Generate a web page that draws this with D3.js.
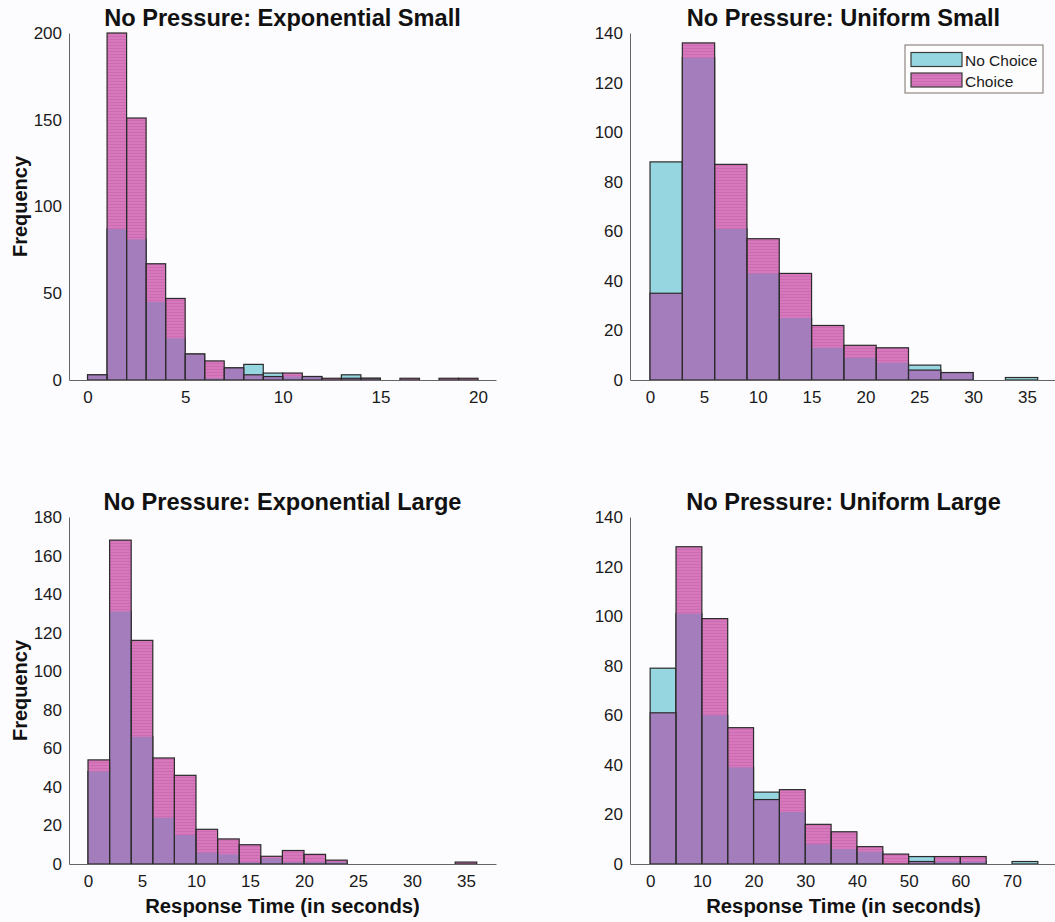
<!DOCTYPE html>
<html>
<head>
<meta charset="utf-8">
<script src="https://cdn.jsdelivr.net/npm/d3@7"></script>
<style>
  body { margin: 0; background: #fcfcfe; }
  svg { display: block; font-family: "Liberation Sans", Arial, Helvetica, sans-serif; }
</style>
</head>
<body>
<div id="chart"></div>
<script>
//----------------------------------
// Data (counts per bin)
//----------------------------------
const expSmallBinWidth = 1;
const expSmallNoChoice = [3, 87, 81, 45, 24, 15, 1, 7, 9, 4, 2, 2, 0, 3, 1, 0, 0, 0, 0, 0];
const expSmallChoice   = [3, 200, 151, 67, 47, 15, 11, 7, 3, 2, 4, 2, 1, 1, 1, 0, 1, 0, 1, 1];

const uniSmallBinWidth = 3;
const uniSmallNoChoice = [88, 130, 61, 43, 25, 13, 9, 7, 6, 3, 0, 1];
const uniSmallChoice   = [35, 136, 87, 57, 43, 22, 14, 13, 4, 3, 0, 0];

const expLargeBinWidth = 2;
const expLargeNoChoice = [48, 131, 66, 24, 15, 6, 5, 1, 3, 1, 1, 1, 0, 0, 0, 0, 0, 0];
const expLargeChoice   = [54, 168, 116, 55, 46, 18, 13, 10, 4, 7, 5, 2, 0, 0, 0, 0, 0, 1];

const uniLargeBinWidth = 5;
const uniLargeNoChoice = [79, 101, 60, 39, 29, 21, 8, 6, 5, 0, 3, 1, 1, 0, 1];
const uniLargeChoice   = [61, 128, 99, 55, 26, 30, 16, 13, 7, 4, 1, 3, 3, 0, 0];

const titles = ["No Pressure: Exponential Small", "No Pressure: Uniform Small",
                "No Pressure: Exponential Large", "No Pressure: Uniform Large"];
const xTicks = [[0, 5, 10, 15, 20], d3.range(0, 36, 5), d3.range(0, 36, 5), d3.range(0, 71, 10)];
const yTicks = [d3.range(0, 201, 50), d3.range(0, 141, 20), d3.range(0, 181, 20), d3.range(0, 141, 20)];
const legendLabels = ["No Choice", "Choice"];

//----------------------------------
// Styling
//----------------------------------
const W = 1055, H = 922;
const cyan = "#95d6e1", pink = "#d778bc", purple = "#a47dbc", edge = "#2b2b2b";

const svg = d3.select("#chart").append("svg")
    .attr("width", W)
    .attr("height", H);

svg.append("rect").attr("width", W).attr("height", H).attr("fill", "#fcfcfe");

// pink faces have faint horizontal banding
const pat = svg.append("defs").append("pattern")
    .attr("id", "pinkStripes")
    .attr("patternUnits", "userSpaceOnUse")
    .attr("width", 6).attr("height", 3);
pat.append("rect").attr("width", 6).attr("height", 3).attr("fill", pink);
pat.append("rect").attr("width", 6).attr("height", 1).attr("fill", "#cd6bb2");

// panel placement
const panels = [
  {left: 69,  right: 496,  top: 33,  bottom: 380, xdom: [-0.95, 20.92], ymax: 200,
   bw: expSmallBinWidth, nc: expSmallNoChoice, c: expSmallChoice},
  {left: 630, right: 1057, top: 33,  bottom: 380, xdom: [-1.86, 37.79], ymax: 140,
   bw: uniSmallBinWidth, nc: uniSmallNoChoice, c: uniSmallChoice},
  {left: 69,  right: 496,  top: 517, bottom: 864, xdom: [-1.76, 37.78], ymax: 180,
   bw: expLargeBinWidth, nc: expLargeNoChoice, c: expLargeChoice},
  {left: 630, right: 1057, top: 517, bottom: 864, xdom: [-3.9, 78.7], ymax: 140,
   bw: uniLargeBinWidth, nc: uniLargeNoChoice, c: uniLargeChoice}
];

panels.forEach((p, i) => {
  const x = d3.scaleLinear().domain(p.xdom).range([p.left, p.right]);
  const y = d3.scaleLinear().domain([0, p.ymax]).range([p.bottom, p.top]);
  const g = svg.append("g");

  const bins = p.nc.map((v, k) => ({x0: k * p.bw, x1: (k + 1) * p.bw, nc: v, c: p.c[k]}));

  // No Choice bars
  g.selectAll(".nc").data(bins).join("rect")
      .attr("x", d => x(d.x0)).attr("width", d => x(d.x1) - x(d.x0))
      .attr("y", d => y(d.nc)).attr("height", d => y(0) - y(d.nc))
      .attr("fill", cyan).attr("stroke", edge).attr("stroke-width", 1.2);

  // Choice bars
  g.selectAll(".c").data(bins).join("rect")
      .attr("x", d => x(d.x0)).attr("width", d => x(d.x1) - x(d.x0))
      .attr("y", d => y(d.c)).attr("height", d => y(0) - y(d.c))
      .attr("fill", "url(#pinkStripes)");

  // overlap of the two
  g.selectAll(".both").data(bins).join("rect")
      .attr("x", d => x(d.x0)).attr("width", d => x(d.x1) - x(d.x0))
      .attr("y", d => y(Math.min(d.nc, d.c))).attr("height", d => y(0) - y(Math.min(d.nc, d.c)))
      .attr("fill", purple);

  // Choice outlines on top
  g.selectAll(".cEdge").data(bins).join("rect")
      .attr("x", d => x(d.x0)).attr("width", d => x(d.x1) - x(d.x0))
      .attr("y", d => y(d.c)).attr("height", d => y(0) - y(d.c))
      .attr("fill", "none").attr("stroke", edge).attr("stroke-width", 1.2);

  // Axes (no tick marks, just lines + labels)
  const xa = g.append("g")
      .attr("transform", `translate(0,${p.bottom})`)
      .call(d3.axisBottom(x).tickValues(xTicks[i]).tickSize(0).tickPadding(11));
  const ya = g.append("g")
      .attr("transform", `translate(${p.left},0)`)
      .call(d3.axisLeft(y).tickValues(yTicks[i]).tickSize(0).tickPadding(7));
  [xa, ya].forEach(a => {
    a.select(".domain").attr("stroke", "#666").attr("stroke-width", 1);
    a.selectAll("text").attr("font-size", 17).attr("fill", "#1a1a1a")
      .attr("font-family", "Liberation Sans, Arial, sans-serif");
  });

  // Title
  svg.append("text")
      .attr("x", (p.left + p.right) / 2)
      .attr("y", p.top - 7)
      .attr("text-anchor", "middle")
      .attr("font-size", 23.6).attr("font-weight", "bold").attr("fill", "#111")
      .text(titles[i]);

  if (i % 2 === 0) {
    svg.append("text")
        .attr("transform", `translate(27,${(p.top + p.bottom) / 2}) rotate(-90)`)
        .attr("text-anchor", "middle")
        .attr("font-size", 20).attr("font-weight", "bold").attr("fill", "#111")
        .text("Frequency");
  }
  if (i >= 2) {
    svg.append("text")
        .attr("x", (p.left + p.right) / 2)
        .attr("y", 913)
        .attr("text-anchor", "middle")
        .attr("font-size", 20.3).attr("font-weight", "bold").attr("fill", "#111")
        .text("Response Time (in seconds)");
  }
});

// Legend (top right panel)
const leg = svg.append("g");
leg.append("rect")
    .attr("x", 905).attr("y", 45).attr("width", 138).attr("height", 48)
    .attr("fill", "#fdfdfe").attr("stroke", "#7a6f6a").attr("stroke-width", 1);
const legFill = [cyan, "url(#pinkStripes)"];
legendLabels.forEach((lab, k) => {
  leg.append("rect")
      .attr("x", 911).attr("y", 52.5 + k * 20.5).attr("width", 51).attr("height", 14)
      .attr("fill", legFill[k]).attr("stroke", "#3a3a3a").attr("stroke-width", 1.2);
  leg.append("text")
      .attr("x", 965).attr("y", 66 + k * 20.5)
      .attr("font-size", 15.5).attr("fill", "#1a1a1a")
      .text(lab);
});
</script>
</body>
</html>
